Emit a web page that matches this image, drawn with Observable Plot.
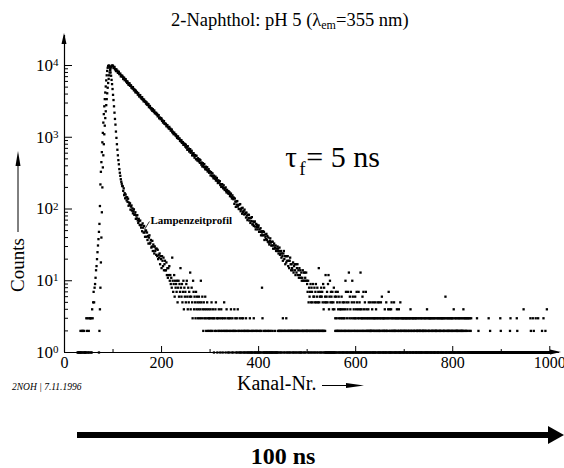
<!DOCTYPE html>
<html>
<head>
<meta charset="utf-8">
<script src="https://cdn.jsdelivr.net/npm/d3@7"></script>
<script src="https://cdn.jsdelivr.net/npm/@observablehq/plot@0.6"></script>
<style>
  body { margin: 0; background: #fff; font-family: "Liberation Serif", "Times New Roman", serif; color: #000; }
  #wrap { position: relative; width: 564px; height: 468px; overflow: hidden; background: #fff; font-family: "Liberation Serif", serif; }
  #title { position: absolute; left: 171px; top: 11px; font-family: "Liberation Serif", serif; font-size: 18.5px; line-height: 18px; white-space: nowrap; }
  #title sub { font-size: 12px; vertical-align: -3px; line-height: 0; }
  #chart { position: absolute; left: 0; top: 30px; }
  #bar { position: absolute; left: 77px; top: 432px; width: 473px; height: 6px; background: #000; }
  #head { position: absolute; left: 548px; top: 426px; width: 0; height: 0; border-left: 16px solid #000; border-top: 9px solid transparent; border-bottom: 9px solid transparent; }
  #ns { position: absolute; left: 180px; width: 206px; text-align: center; top: 444px; font-family: "Liberation Serif", serif; font-size: 24px; font-weight: bold; line-height: 24px; }
</style>
</head>
<body>
<div id="wrap">
  <div id="title">2-Naphthol: pH 5 (λ<sub>em</sub>=355 nm)</div>
  <div id="chart"></div>
  <div id="bar"></div><div id="head"></div>
  <div id="ns">100 ns</div>
</div>
<script>
// ---------- data: counts per channel (index = channel number) ----------
const lampCounts = [
  // ch 0-19
  0,0,0,0,0,0,0,0,0,0, 0,0,0,0,0,0,0,0,0,0,
  // ch 20-39
  0,0,0,0,0,0,0,1,1,0, 1,1,1,2,1,1,2,1,2,1,
  // ch 40-59
  2,1,1,1,1,3,2,1,3,1, 2,1,3,3,1,3,1,4,3,5,
  // ch 60-79
  7,5,8,9,11,14,16,20,25,31, 38,48,62,110,220,330,450,620,850,1150,
  // ch 80-99
  1600,2100,2700,3400,4200,5100,6200,7300,8400,9300, 9800,10000,9900,9400,8700,8000,7200,6300,5500,4700,
  // ch 100-119
  3900,3300,2700,2200,1800,1500,1200,980,800,670, 560,480,420,360,320,290,260,240,225,210,
  // ch 120-139
  207,179,194,156,166,141,159,145,132,146, 126,139,111,123,114,120,98,108,112,95,
  // ch 140-159
  102,87,93,99,83,84,90,73,81,74, 82,69,64,73,68,60,69,59,55,60,
  // ch 160-179
  49,63,55,47,58,47,41,50,50,41, 47,37,42,33,40,43,33,34,37,29,
  // ch 180-199
  30,36,26,32,30,24,30,26,28,23, 28,22,27,20,23,21,24,17,22,20,
  // ch 200-219
  15,22,19,16,21,14,17,19,14,14, 18,12,15,11,15,12,16,10,12,9,
  // ch 220-239
  11,8,21,10,7,9,12,6,10,8, 9,7,10,5,8,10,6,9,7,15,
  // ch 240-259
  8,6,9,5,7,10,4,8,6,7, 5,9,10,6,4,8,5,7,6,13,
  // ch 260-279
  4,6,8,5,3,10,7,4,6,5, 3,7,4,6,5,3,4,6,5,3,
  // ch 280-299
  4,10,5,3,6,4,2,5,3,4, 6,3,2,4,5,3,2,4,3,2,
  // ch 300-319
  3,4,2,5,3,2,4,3,1,3, 2,4,5,2,3,1,3,2,4,2,
  // ch 320-339
  3,1,2,4,3,2,1,3,2,5, 2,3,1,2,4,2,3,1,2,3,
  // ch 340-359
  1,2,3,4,2,1,3,2,1,2, 4,2,3,1,2,3,1,4,2,1,
  // ch 360-379
  2,3,1,2,1,3,2,1,3,2, 1,2,1,2,3,1,2,1,2,1,
  // ch 380-399
  2,1,3,1,2,1,1,2,1,2, 3,1,2,1,1,2,1,2,1,1,
  // ch 400-419
  2,1,1,2,1,2,1,8,3,1, 2,1,1,2,1,1,2,1,1,2,
  // ch 420-439
  1,1,2,1,1,2,1,1,1,2, 1,0,1,1,2,1,1,0,1,1,
  // ch 440-459
  2,1,2,2,1,2,1,2,2,1, 3,2,1,2,2,1,2,3,1,2,
  // ch 460-479
  1,2,2,1,2,1,2,2,1,2, 2,1,2,1,2,2,1,2,1,2,
  // ch 480-499
  2,1,2,2,1,2,1,1,2,2, 1,2,2,1,2,1,2,2,1,2,
  // ch 500-519
  2,2,1,2,1,2,2,1,2,1, 2,2,1,2,2,1,2,1,2,2,
  // ch 520-539
  1,2,2,1,2,2,1,2,1,2, 2,1,2,2,1,2,1,2,1,1,
  // ch 540-559
  1,0,1,1,1,0,1,1,1,1, 0,1,1,1,0,1,1,1,2,1,
  // ch 560-579
  2,1,2,1,2,2,1,1,2,1, 2,1,2,1,1,2,1,2,1,2,
  // ch 580-599
  1,2,1,1,2,1,2,1,2,1, 1,2,1,2,1,1,2,1,2,1,
  // ch 600-619
  2,1,1,2,1,2,1,1,2,1, 2,1,1,2,1,2,1,2,1,1,
  // ch 620-639
  2,1,2,1,1,2,1,2,1,1, 2,1,2,1,2,1,1,2,1,2,
  // ch 640-659
  1,1,2,1,0,2,1,1,2,1, 1,2,1,0,1,2,1,1,2,1,
  // ch 660-679
  1,2,1,1,2,1,0,1,2,1, 1,1,2,1,1,2,1,0,1,2,
  // ch 680-699
  1,1,2,1,1,0,1,2,1,1, 2,1,1,1,2,1,0,1,1,2,
  // ch 700-719
  1,1,0,1,2,1,1,1,0,1, 2,1,1,1,2,1,0,1,1,1,
  // ch 720-739
  2,1,0,1,1,1,2,1,1,0, 1,1,2,1,1,1,0,1,1,2,
  // ch 740-759
  1,0,1,1,2,1,1,1,0,1, 1,2,1,1,0,1,1,1,2,1,
  // ch 760-779
  0,1,1,1,1,2,1,0,1,1, 1,1,0,1,2,1,1,1,0,1,
  // ch 780-799
  1,1,2,1,0,1,1,1,1,0, 1,2,1,1,1,0,1,1,1,2,
  // ch 800-819
  1,0,1,1,1,1,0,1,2,1, 1,1,0,1,1,1,1,0,1,1,
  // ch 820-839
  2,1,1,0,1,1,1,1,0,1, 1,1,0,1,1,1,0,1,1,1,
  // ch 840-859
  0,1,1,1,0,1,1,0,1,1, 1,0,1,1,1,0,1,1,0,1,
  // ch 860-879
  1,1,0,1,1,0,1,1,1,0, 1,1,0,1,1,1,0,1,1,0,
  // ch 880-899
  1,0,1,1,1,0,1,1,0,1, 1,1,0,1,1,0,1,1,1,0,
  // ch 900-919
  1,1,0,1,1,0,1,1,1,0, 1,1,0,1,1,1,0,1,1,0,
  // ch 920-939
  1,1,0,1,1,1,0,1,1,0, 1,0,1,1,1,0,1,1,0,1,
  // ch 940-959
  1,0,1,1,0,1,1,1,0,1, 1,0,1,1,1,0,1,1,0,1,
  // ch 960-979
  1,1,0,1,1,0,1,1,1,0, 1,1,0,1,1,0,1,1,1,0,
  // ch 980-999
  1,0,1,1,1,0,1,1,0,1, 1,1,0,1,1,0,1,1,1,1
];

const decayCounts = [
  // ch 0-59
  0,0,0,0,0,0,0,0,0,0, 0,0,0,0,0,0,0,0,0,0,
  0,0,0,0,0,0,0,0,0,0, 0,0,0,0,0,0,0,0,0,0,
  0,0,0,0,0,0,0,0,0,0, 0,0,0,0,0,0,0,0,0,0,
  // ch 60-79
  0,0,0,0,0,0,0,0,0,0, 0,1,2,4,8,18,40,90,200,380,
  // ch 80-99
  560,800,1100,1450,1850,2300,2800,3400,4100,4900, 5700,6500,7300,8000,8700,9200,9600,9850,9950,10000,
  // ch 100-149
  9858,9217,9434,9550,8847,8876,8377,8835,8349,8457,
  7906,8093,8193,7590,7614,7710,7065,7306,7041,7202,
  6942,6487,6776,6727,6228,6312,6453,5979,6058,5719,
  5970,5641,5378,5618,5632,5217,5233,5299,4906,5023,
  4790,4998,4725,4506,4657,4534,4236,4469,4222,4277,
  // ch 150-199
  4163,3931,4104,3878,3697,3861,3870,3586,3597,3430,
  3615,3350,3394,3171,3344,3192,3107,3147,2942,3071,
  2844,2940,2806,2897,2629,2719,2726,2550,2558,2440,
  2521,2334,2462,2349,2264,2361,2165,2217,2136,2185,
  2064,2112,1956,2022,2026,1838,1883,1870,1784,1843,
  // ch 200-249
  1811,1694,1717,1604,1676,1680,1540,1561,1520,1539,
  1424,1473,1477,1381,1386,1321,1393,1304,1320,1234,
  1275,1278,1173,1200,1145,1102,1163,1110,1102,1052,
  1087,1027,978,1022,1024,949,952,964,892,914,
  871,909,834,853,856,784,819,782,807,740,
  // ch 250-299
  788,716,732,670,750,675,697,633,655,683,
  607,634,648,559,597,564,600,555,519,565,
  549,493,552,497,473,510,482,460,494,440,
  479,440,415,443,392,436,412,385,423,380,
  358,390,376,352,382,333,342,359,320,337,
  // ch 300-349
  325,294,327,315,288,313,284,268,292,276,
  264,283,249,263,271,247,230,251,232,245,
  243,216,222,203,220,222,203,194,214,195,
  184,194,200,178,170,185,177,165,177,163,
  171,151,160,164,148,140,155,145,137,144,
  // ch 350-399
  118,140,127,107,127,115,129,108,113,100,
  115,100,117,93,99,103,86,104,91,94,
  84,98,85,89,76,89,81,70,83,75,
  83,69,75,64,75,68,77,61,67,61,
  58,66,67,57,52,62,56,60,52,56,
  // ch 400-449
  59,48,52,48,54,43,49,47,43,49,
  43,48,37,44,41,38,45,37,42,35,
  40,34,32,36,39,34,31,35,31,35,
  28,31,33,28,29,31,26,28,26,30,
  28,24,26,29,23,24,26,21,24,22,
  // ch 450-499
  19,24,26,20,22,17,22,18,22,19,
  22,16,19,15,19,21,17,14,17,15,
  14,18,13,16,17,14,12,17,13,15,
  17,12,14,11,15,12,14,11,13,10,
  11,14,10,13,10,13,11,10,13,10,
  // ch 500-549
  9,7,10,5,8,6,7,9,5,8,
  7,5,9,6,6,8,5,7,9,5,
  6,8,5,7,15,5,6,7,6,8,
  6,7,5,9,4,8,5,6,12,5,
  6,7,5,9,12,4,6,10,5,7,
  // ch 550-599
  6,5,7,4,5,8,4,6,3,7,
  6,3,5,7,4,6,3,5,4,3,
  4,6,3,5,4,3,5,3,4,10,
  7,5,3,4,7,5,13,3,6,4,
  7,3,5,10,6,3,4,5,3,6,
  // ch 600-649
  3,4,7,5,3,4,7,3,5,4,
  13,3,4,3,6,3,7,4,3,5,
  3,7,4,3,2,3,4,5,3,2,
  3,5,2,3,4,3,5,2,3,3,
  5,3,4,2,3,5,3,2,5,3,
  // ch 650-699
  2,3,5,3,6,2,3,3,2,3,
  4,3,2,5,3,2,3,4,7,3,
  4,2,3,4,5,3,2,3,2,5,
  3,2,3,2,3,4,3,2,3,4,
  3,2,5,3,2,3,2,3,3,2,
  // ch 700-749
  3,2,3,2,3,3,2,3,2,3,
  2,3,3,4,2,3,2,3,3,2,
  3,2,3,2,3,3,2,2,3,2,
  3,2,2,3,2,3,2,3,2,2,
  3,2,3,2,3,2,3,4,2,3,
  // ch 750-799
  2,3,2,3,3,2,3,2,3,2,
  3,2,3,2,3,2,2,3,2,3,
  2,3,2,3,2,3,2,3,3,2,
  3,2,3,2,3,6,2,3,2,3,
  2,3,2,3,2,3,2,3,2,3,
  // ch 800-849
  3,2,4,2,3,2,3,2,3,2,
  2,3,2,3,2,3,2,2,3,2,
  3,2,4,3,2,3,2,3,2,3,
  2,3,1,3,2,3,1,2,3,1,
  1,1,1,1,1,1,1,1,1,1,
  // ch 850-899
  3,1,1,2,1,1,1,1,1,1,
  1,1,1,1,1,1,1,1,1,1,
  1,1,1,1,3,1,1,2,1,1,
  1,1,1,1,1,1,1,1,1,1,
  1,1,1,1,1,1,1,1,3,2,
  // ch 900-949
  1,1,1,1,1,1,1,1,1,1,
  1,1,1,1,1,1,1,1,2,3,
  1,1,1,1,1,1,1,1,1,1,
  1,1,3,2,1,1,1,1,1,1,
  1,1,1,1,1,1,4,1,1,1,
  // ch 950-999
  1,1,1,1,1,1,1,1,1,1,
  3,2,1,1,1,3,1,2,1,1,
  1,3,1,1,1,1,3,1,1,1,
  1,1,1,1,2,1,1,3,1,1,
  1,2,1,1,4,1,1,1,1,1
];

// axis ticks
const xMajorTicks = [0, 200, 400, 600, 800, 1000];
const xMinorTicks = [100, 300, 500, 700, 900];
const yDecades = [1, 10, 100, 1000, 10000];
const yExponents = ["0", "1", "2", "3", "4"];
const yMinorTicks = [2,3,4,5,6,7,8,9, 20,30,40,50,60,70,80,90, 200,300,400,500,600,700,800,900, 2000,3000,4000,5000,6000,7000,8000,9000];
const xDomain = [0, 1020];
const yDomain = [1, 26200];

// annotations (data space)
const lampLabel = [{ch: 177, count: 61, text: "Lampenzeitprofil"}];
const lampLeader = [{ch1: 165, c1: 52, ch2: 175, c2: 67}];
const tauLabel = [{ch: 455, count: 379}];

const toPoints = arr => arr.map((c, i) => ({ch: i, count: c})).filter(d => d.count > 0);
const lampPts = toPoints(lampCounts);
const decayPts = toPoints(decayCounts);

const serif = "Liberation Serif";

const chart = Plot.plot({
  width: 564,
  height: 370,
  marginLeft: 64,
  marginRight: 5,
  marginTop: 5,
  marginBottom: 48,
  style: {fontFamily: serif, fontSize: "16px", color: "#000", background: "transparent", overflow: "visible"},
  x: {domain: xDomain},
  y: {type: "log", domain: yDomain},
  marks: [
    Plot.ruleY([1], {stroke: "#000", strokeWidth: 1.2}),
    Plot.ruleX([0], {stroke: "#000", strokeWidth: 1.2}),
    Plot.axisX({ticks: xMajorTicks, tickSize: -6, text: null, label: null}),
    Plot.axisX({ticks: xMinorTicks, tickSize: -3, text: null, label: null}),
    Plot.axisX({ticks: xMajorTicks, tickSize: 0, tickPadding: 4, tickFormat: d => String(d), label: null, fontSize: 16, fontFamily: serif}),
    Plot.axisY({ticks: yDecades, tickSize: -8, text: null, label: null}),
    Plot.axisY({ticks: yMinorTicks, tickSize: -4, text: null, label: null}),
    Plot.axisY({ticks: yDecades, tickSize: 0, tickPadding: 6, tickFormat: d => "10^" + yExponents[yDecades.indexOf(d)], label: null, fontSize: 17, fontFamily: serif}),
    Plot.dot(lampPts, {x: "ch", y: "count", symbol: "square", r: 1.3, fill: "#000", stroke: "none"}),
    Plot.dot(decayPts, {x: "ch", y: "count", symbol: "square", r: 1.3, fill: "#000", stroke: "none"}),
    Plot.link(lampLeader, {x1: "ch1", y1: "c1", x2: "ch2", y2: "c2", stroke: "#000", strokeWidth: 0.8}),
    Plot.text(lampLabel, {x: "ch", y: "count", text: "text", textAnchor: "start", lineAnchor: "bottom", fontSize: 11, fontWeight: "bold", fontFamily: serif, fill: "#000"}),
    Plot.text(tauLabel, {x: "ch", y: "count", text: () => "τ", textAnchor: "start", lineAnchor: "bottom", fontSize: 29, fontFamily: serif, fill: "#000"}),
    Plot.text(tauLabel, {x: "ch", y: "count", text: () => "f", textAnchor: "start", lineAnchor: "bottom", fontSize: 19, fontFamily: serif, dx: 14, dy: 8, fill: "#000"}),
    Plot.text(tauLabel, {x: "ch", y: "count", text: () => "= 5 ns", textAnchor: "start", lineAnchor: "bottom", fontSize: 30, fontFamily: serif, dx: 21, fill: "#000"})
  ]
});

document.getElementById("chart").appendChild(chart);

// superscript exponents on y tick labels
const svg = d3.select(chart);
svg.selectAll('g[aria-label="y-axis tick label"] text').each(function () {
  const t = this.textContent;
  const m = t.match(/^10\^(\d+)$/);
  if (!m) return;
  const el = d3.select(this);
  el.text(null);
  el.append("tspan").text("10");
  el.append("tspan").attr("dy", "-0.45em").attr("font-size", "11px").text(m[1]);
});

// axis arrowheads and axis titles (positions from the plot's scales/frame)
const X = chart.scale("x"), Y = chart.scale("y");
const xl = X.apply(xDomain[0]), xr = X.apply(xDomain[1]);
const yb = Y.apply(yDomain[0]), yt = Y.apply(yDomain[1]);
const deco = svg.append("g").attr("font-family", serif).attr("text-anchor", "start");
deco.append("path").attr("d", `M${xr + 2},${yb} L${xr - 9},${yb - 2.5} L${xr - 9},${yb + 2.5} Z`).attr("fill", "#000");
deco.append("path").attr("d", `M${xl},${yt - 2} L${xl - 2.5},${yt + 9} L${xl + 2.5},${yt + 9} Z`).attr("fill", "#000");

// x-axis title "Kanal-Nr. ——►"
deco.append("text").attr("x", 237).attr("y", yb + 38).attr("text-anchor", "start").attr("font-size", 20).attr("fill", "#000").text("Kanal-Nr.");
deco.append("line").attr("x1", 322).attr("x2", 352).attr("y1", yb + 33.5).attr("y2", yb + 33.5).attr("stroke", "#000").attr("stroke-width", 1);
deco.append("path").attr("d", `M364,${yb + 33.5} L346,${yb + 31} L346,${yb + 36} Z`).attr("fill", "#000");

// y-axis title "Counts ——►"
const cx = 24;
deco.append("text").attr("transform", `translate(${cx},${235}) rotate(-90)`).attr("text-anchor", "middle")
  .attr("font-size", 19).attr("fill", "#000").text("Counts");
deco.append("line").attr("x1", cx - 6).attr("x2", cx - 6).attr("y1", 202).attr("y2", 130).attr("stroke", "#000").attr("stroke-width", 1);
deco.append("path").attr("d", `M${cx - 6},${121} L${cx - 8.5},${136} L${cx - 3.5},${136} Z`).attr("fill", "#000");

// footer
deco.append("text").attr("x", 12).attr("y", yb + 38).attr("text-anchor", "start").attr("font-style", "italic")
  .attr("font-size", 9.5).attr("fill", "#000").text("2NOH | 7.11.1996");
</script>
</body>
</html>
